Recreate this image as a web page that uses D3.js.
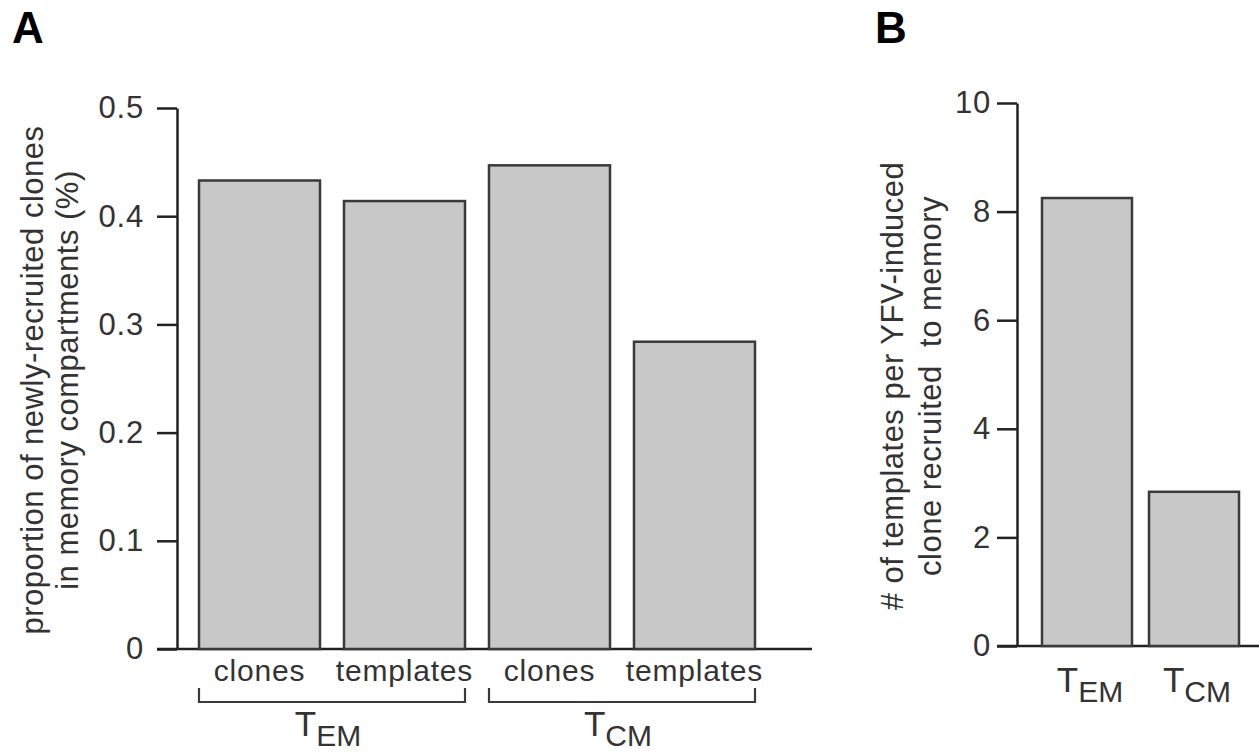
<!DOCTYPE html>
<html>
<head>
<meta charset="utf-8">
<script src="https://cdn.jsdelivr.net/npm/d3@7"></script>
<style>
  html, body { margin: 0; padding: 0; background: #fff; }
  svg { display: block; font-family: "Liberation Sans", Arial, Helvetica, sans-serif; }
</style>
</head>
<body>
<svg id="fig" width="1259" height="753"></svg>
<script>
// Panel A: proportion of newly-recruited clones per memory compartment
const groupsA = ["TEM", "TCM"];
const measuresA = ["clones", "templates"];
const categoriesA = ["TEM clones", "TEM templates", "TCM clones", "TCM templates"];
const valuesA = [0.433, 0.414, 0.447, 0.284];
const ticksA = [0, 0.1, 0.2, 0.3, 0.4, 0.5];

// Panel B: templates per YFV-induced clone recruited to memory
const categoriesB = ["TEM", "TCM"];
const valuesB = [8.25, 2.84];
const ticksB = [0, 2, 4, 6, 8, 10];

const subscripts = { TEM: "EM", TCM: "CM" };

const svg = d3.select("#fig");
const ink = "#222";
const textInk = "#333";
const barFill = "#c8c8c8";
const barStroke = "#3a3a3a";

function panel(opts) {
  const g = svg.append("g");
  const y = d3.scaleLinear().domain(opts.domain).range([opts.y0, opts.y1]);
  const x = d3.scaleBand().domain(opts.categories).range(opts.xRange)
    .paddingInner(opts.padInner).paddingOuter(0);

  // baseline running under the bars
  g.append("line")
    .attr("x1", opts.axisX - 20).attr("x2", opts.baseEnd)
    .attr("y1", y(0)).attr("y2", y(0))
    .attr("stroke", ink).attr("stroke-width", 2.5);

  // bars
  g.selectAll("rect.bar").data(opts.values).join("rect")
    .attr("class", "bar")
    .attr("x", (d, i) => x(opts.categories[i]))
    .attr("width", x.bandwidth())
    .attr("y", d => y(d))
    .attr("height", d => y(0) - y(d))
    .attr("fill", barFill)
    .attr("stroke", barStroke)
    .attr("stroke-width", 2.5);

  // y axis
  const axis = d3.axisLeft(y).tickValues(opts.ticks).tickSize(20).tickSizeOuter(0)
    .tickPadding(opts.tickPad).tickFormat(opts.fmt);
  const ag = g.append("g").attr("transform", `translate(${opts.axisX},0)`).call(axis);
  ag.select(".domain").attr("stroke", ink).attr("stroke-width", 2.5);
  ag.selectAll(".tick line").attr("stroke", ink).attr("stroke-width", 2.5);
  ag.selectAll(".tick text")
    .attr("fill", textInk)
    .style("font-size", "31px")
    .style("letter-spacing", "0.8px")
    .attr("font-family", null);

  // rotated y-axis title
  opts.title.forEach((line, i) => {
    g.append("text")
      .attr("transform", `translate(${opts.titleX[i]},${opts.titleY}) rotate(-90)`)
      .attr("text-anchor", "middle")
      .attr("fill", textInk)
      .style("font-size", "31px")
      .style("letter-spacing", "0.5px")
      .style("white-space", "pre")
      .text(line);
  });

  // panel letter
  svg.append("text")
    .attr("x", opts.letterX).attr("y", 43)
    .attr("font-weight", "bold")
    .style("font-size", "44px")
    .attr("fill", "#000")
    .text(opts.letter);

  return { g, x, y };
}

function subLabel(g, cx, baseline, key, tSize, subSize, subDy) {
  const t = g.append("text")
    .attr("x", cx).attr("y", baseline)
    .attr("text-anchor", "middle")
    .attr("fill", textInk);
  t.append("tspan").style("font-size", tSize + "px").text("T");
  t.append("tspan").style("font-size", subSize + "px").attr("dy", subDy).text(subscripts[key]);
}

// ---- Panel A ----
const A = panel({
  letter: "A", letterX: 12,
  domain: [0, 0.5], y0: 649, y1: 108,
  categories: categoriesA, values: valuesA,
  xRange: [199, 755], padInner: 0.1655,
  axisX: 177, baseEnd: 812, ticks: ticksA, tickPad: 13,
  fmt: d => d === 0 ? "0" : d3.format(".1f")(d),
  title: ["proportion of newly-recruited clones", "in memory compartments (%)"],
  titleX: [43, 78], titleY: 380
});

// measure labels under each bar
A.g.selectAll("text.measure").data(categoriesA).join("text")
  .attr("class", "measure")
  .attr("x", d => A.x(d) + A.x.bandwidth() / 2)
  .attr("y", 681)
  .attr("text-anchor", "middle")
  .attr("fill", textInk)
  .style("font-size", "30px")
  .style("letter-spacing", "0.8px")
  .text(d => d.split(" ")[1]);

// group brackets and group labels
groupsA.forEach(grp => {
  const left = A.x(`${grp} ${measuresA[0]}`);
  const right = A.x(`${grp} ${measuresA[1]}`) + A.x.bandwidth();
  A.g.append("path")
    .attr("d", `M${left},688 V702 H${right} V688`)
    .attr("fill", "none")
    .attr("stroke", "#3a3a3a")
    .attr("stroke-width", 2.2);
  subLabel(A.g, (left + right) / 2 - 4, 736, grp, 35, 30, 10);
});

// ---- Panel B ----
const B = panel({
  letter: "B", letterX: 875,
  domain: [0, 10], y0: 646, y1: 103,
  categories: categoriesB, values: valuesB,
  xRange: [1042, 1239], padInner: 0.159,
  axisX: 1017, baseEnd: 1259, ticks: ticksB, tickPad: 6,
  fmt: d3.format("d"),
  title: ["# of templates per YFV-induced", "clone recruited  to memory"],
  titleX: [903, 941], titleY: 386
});

categoriesB.forEach(c => {
  subLabel(B.g, B.x(c) + B.x.bandwidth() / 2 + 3, 692, c, 35, 30, 10);
});
</script>
</body>
</html>
